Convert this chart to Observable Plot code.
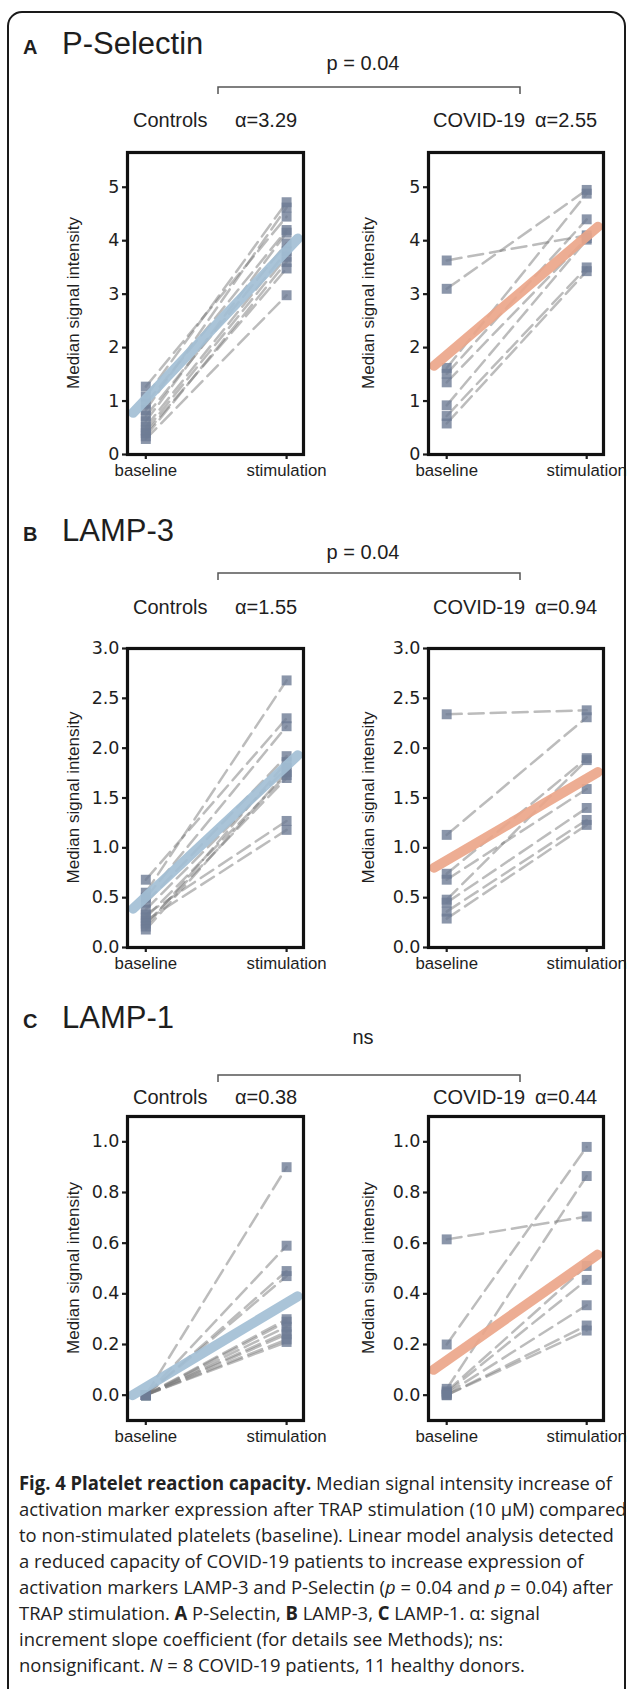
<!DOCTYPE html>
<html><head><meta charset="utf-8">
<script src="https://cdn.jsdelivr.net/npm/d3@7"></script>
<script src="https://cdn.jsdelivr.net/npm/@observablehq/plot@0.6"></script>
<style>
html,body{margin:0;padding:0;background:#fff;}
#root{position:relative;width:627px;height:1689px;overflow:hidden;}
</style></head><body><div id="root"></div>
<script>
// ---------------- data ----------------
const xLabels = ["baseline", "stimulation"];
const groupNames = ["Controls", "COVID-19"];
const markers = ["P-Selectin", "LAMP-3", "LAMP-1"];
const panelLetters = ["A", "B", "C"];
const pLabels = ["p = 0.04", "p = 0.04", "ns"];
const alphaCtrl = ["3.29", "1.55", "0.38"];
const alphaCovid = ["2.55", "0.94", "0.44"];

const pselCtrlBase = [1.27, 1.08, 0.95, 0.83, 0.72, 0.62, 0.52, 0.45, 0.40, 0.34, 0.29];
const pselCtrlStim = [4.45, 4.72, 4.20, 4.62, 3.95, 4.15, 3.80, 3.70, 3.48, 3.60, 2.98];
const pselCovBase = [3.63, 3.10, 1.62, 1.51, 1.35, 0.92, 0.72, 0.58];
const pselCovStim = [4.10, 4.95, 4.88, 4.40, 4.05, 4.02, 3.50, 3.43];
const pselFitX = [-0.09, 1.08];
const pselCtrlFitY = [0.78, 4.04];
const pselCovFitY = [1.66, 4.26];

const lamp3CtrlBase = [0.68, 0.55, 0.50, 0.45, 0.38, 0.33, 0.30, 0.27, 0.24, 0.21, 0.18];
const lamp3CtrlStim = [2.30, 2.68, 2.22, 1.92, 1.80, 1.27, 1.73, 1.18, 1.70, 1.86, 1.76];
const lamp3CovBase = [2.34, 1.13, 0.74, 0.68, 0.48, 0.45, 0.36, 0.29];
const lamp3CovStim = [2.38, 2.31, 1.90, 1.59, 1.88, 1.40, 1.28, 1.23];
const lamp3FitX = [-0.09, 1.08];
const lamp3CtrlFitY = [0.39, 1.93];
const lamp3CovFitY = [0.80, 1.76];

const lamp1CtrlBase = [0, 0, 0, 0, 0, 0, 0, 0, 0, 0, 0];
const lamp1CtrlStim = [0.90, 0.59, 0.49, 0.47, 0.30, 0.29, 0.27, 0.25, 0.24, 0.22, 0.21];
const lamp1CovBase = [0.615, 0.20, 0.025, 0.015, 0.01, 0.005, 0, 0];
const lamp1CovStim = [0.705, 0.98, 0.865, 0.51, 0.455, 0.355, 0.275, 0.255];
const lamp1FitX = [-0.095, 1.078];
const lamp1CtrlFitY = [0.0, 0.39];
const lamp1CovFitY = [0.10, 0.555];

const pselTicks = [0, 1, 2, 3, 4, 5];
const lamp3Ticks = [0, 0.5, 1, 1.5, 2, 2.5, 3];
const lamp1Ticks = [0, 0.2, 0.4, 0.6, 0.8, 1.0];
const pselDomain = [0, 5.65];
const lamp3Domain = [0, 3];
const lamp1Domain = [-0.1, 1.1];
const xDomain = [-0.13, 1.12];

// ---------------- layout ----------------
const W = 627, H = 1689;
const colFrames = [[127, 303], [428, 603]];
const panelY = [
  {title: 43, p: 63, bracket: 87, group: 120, top: 152, bottom: 454},
  {title: 530, p: 552, bracket: 573, group: 607, top: 648, bottom: 947},
  {title: 1017, p: 1037, bracket: 1075, group: 1097, top: 1116, bottom: 1420}
];
const blue = "#a3bfd5", orange = "#eba68a";

const panels = [
  {ctrl: [pselCtrlBase, pselCtrlStim, pselCtrlFitY], cov: [pselCovBase, pselCovStim, pselCovFitY], fitX: pselFitX, domain: pselDomain, ticks: pselTicks, fmt: d => String(d)},
  {ctrl: [lamp3CtrlBase, lamp3CtrlStim, lamp3CtrlFitY], cov: [lamp3CovBase, lamp3CovStim, lamp3CovFitY], fitX: lamp3FitX, domain: lamp3Domain, ticks: lamp3Ticks, fmt: d3.format(".1f")},
  {ctrl: [lamp1CtrlBase, lamp1CtrlStim, lamp1CtrlFitY], cov: [lamp1CovBase, lamp1CovStim, lamp1CovFitY], fitX: lamp1FitX, domain: lamp1Domain, ticks: lamp1Ticks, fmt: d3.format(".1f")}
];

const root = document.getElementById("root");

function chart(base, stim, fitX, fitY, color, domain, ticks, fmt, fw, fh) {
  const ML = 60, MR = 4, MT = 4, MB = 34;
  const rows = [];
  base.forEach((b, i) => { rows.push({id: i, x: 0, y: b}); rows.push({id: i, x: 1, y: stim[i]}); });
  const fitRows = fitX.map((x, i) => ({x, y: fitY[i]}));
  const svg = Plot.plot({
    width: ML + fw + MR, height: MT + fh + MB,
    marginLeft: ML, marginRight: MR, marginTop: MT, marginBottom: MB,
    style: {background: "transparent", overflow: "visible", color: "#1e1e1e"},
    x: {domain: xDomain},
    y: {domain},
    marks: [
      Plot.line(rows, {x: "x", y: "y", z: "id", stroke: "#7a7a7a", strokeOpacity: 0.5, strokeWidth: 2.5, strokeDasharray: "15,7"}),
      Plot.dot(rows, {x: "x", y: "y", symbol: "square", r: 5.6, fill: "#6e7c95", fillOpacity: 0.8, stroke: "none"}),
      Plot.line(fitRows, {x: "x", y: "y", stroke: color, strokeWidth: 10, strokeOpacity: 0.92}),
      Plot.axisY({ticks, tickFormat: fmt, tickSize: 5, tickPadding: 3, fontSize: 17.5, fontFamily: "DejaVu Sans", label: null, strokeWidth: 2.2}),
      Plot.axisX({ticks: [0, 1], tickFormat: d => xLabels[d], tickSize: 5, tickPadding: 5, fontSize: 16.8, fontFamily: "Liberation Sans", label: null, strokeWidth: 2.2}),
      Plot.frame({stroke: "#111", strokeWidth: 3.2})
    ]
  });
  return {svg, ML, MT};
}

panels.forEach((p, pi) => {
  const py = panelY[pi];
  [p.ctrl, p.cov].forEach((g, gi) => {
    const [fl, fr] = colFrames[gi];
    const c = chart(g[0], g[1], p.fitX, g[2], gi === 0 ? blue : orange, p.domain, p.ticks, p.fmt, fr - fl, py.bottom - py.top);
    c.svg.style.position = "absolute";
    c.svg.style.left = (fl - c.ML) + "px";
    c.svg.style.top = (py.top - c.MT) + "px";
    root.appendChild(c.svg);
  });
});

// ---------------- overlay text ----------------
const ov = d3.select(root).append("svg")
  .attr("width", W).attr("height", H)
  .style("position", "absolute").style("left", 0).style("top", 0).style("pointer-events", "none")
  .attr("font-family", "Liberation Sans, Arial, sans-serif").attr("fill", "#1e1e1e");

ov.append("rect").attr("x", 8).attr("y", 12).attr("width", 617).attr("height", 1720)
  .attr("rx", 14).attr("fill", "none").attr("stroke", "#1a1a1a").attr("stroke-width", 2);

panels.forEach((p, pi) => {
  const py = panelY[pi];
  ov.append("text").attr("x", 23).attr("y", py.title + 11).attr("font-size", 20).attr("font-weight", "bold")
    .text(panelLetters[pi]);
  ov.append("text").attr("x", 62).attr("y", py.title + 11).attr("font-size", 31).text(markers[pi]);
  ov.append("text").attr("x", 363).attr("y", py.p + 7).attr("font-size", 20).attr("text-anchor", "middle").text(pLabels[pi]);
  ov.append("path").attr("d", `M218,${py.bracket + 7}V${py.bracket}H520V${py.bracket + 7}`)
    .attr("fill", "none").attr("stroke", "#555").attr("stroke-width", 1.5);
  ov.append("text").attr("x", 133).attr("y", py.group + 7).attr("font-size", 20).text(groupNames[0]);
  ov.append("text").attr("x", 235).attr("y", py.group + 7).attr("font-size", 20).text("α=" + alphaCtrl[pi]);
  ov.append("text").attr("x", 433).attr("y", py.group + 7).attr("font-size", 20).text(groupNames[1]);
  ov.append("text").attr("x", 535).attr("y", py.group + 7).attr("font-size", 20).text("α=" + alphaCovid[pi]);
  const cy = (py.top + py.bottom) / 2;
  [73, 368].forEach(x => {
    ov.append("text").attr("transform", `translate(${x},${cy}) rotate(-90)`).attr("text-anchor", "middle")
      .attr("dominant-baseline", "central").attr("font-size", 17).text("Median signal intensity");
  });
});

// ---------------- caption ----------------
const capLines = [
  [["b", "Fig. 4 Platelet reaction capacity."], ["", " Median signal intensity increase of"]],
  [["", "activation marker expression after TRAP stimulation (10 µM) compared"]],
  [["", "to non-stimulated platelets (baseline). Linear model analysis detected"]],
  [["", "a reduced capacity of COVID-19 patients to increase expression of"]],
  [["", "activation markers LAMP-3 and P-Selectin ("], ["i", "p"], ["", " = 0.04 and "], ["i", "p"], ["", " = 0.04) after"]],
  [["", "TRAP stimulation. "], ["b", "A"], ["", " P-Selectin, "], ["b", "B"], ["", " LAMP-3, "], ["b", "C"], ["", " LAMP-1. α: signal"]],
  [["", "increment slope coefficient (for details see Methods); ns:"]],
  [["", "nonsignificant. "], ["i", "N"], ["", " = 8 COVID-19 patients, 11 healthy donors."]]
];
const cap = ov.append("g").attr("font-family", "Open Sans, sans-serif").attr("font-size", 19).attr("fill", "#222");
const capTexts = capLines.map((line, li) => {
  const t = cap.append("text").attr("x", 0).attr("y", 1490 + li * 26);
  line.forEach(([s, str]) => {
    const ts = t.append("tspan").text(str);
    if (s === "b") ts.attr("font-weight", "bold");
    if (s === "i") ts.attr("font-style", "italic");
  });
  return t;
});
const len = capTexts[0].node().getComputedTextLength();
const sx = len > 0 ? 593 / len : 1;
cap.attr("transform", `translate(19,0) scale(${sx},1)`);
</script></body></html>
